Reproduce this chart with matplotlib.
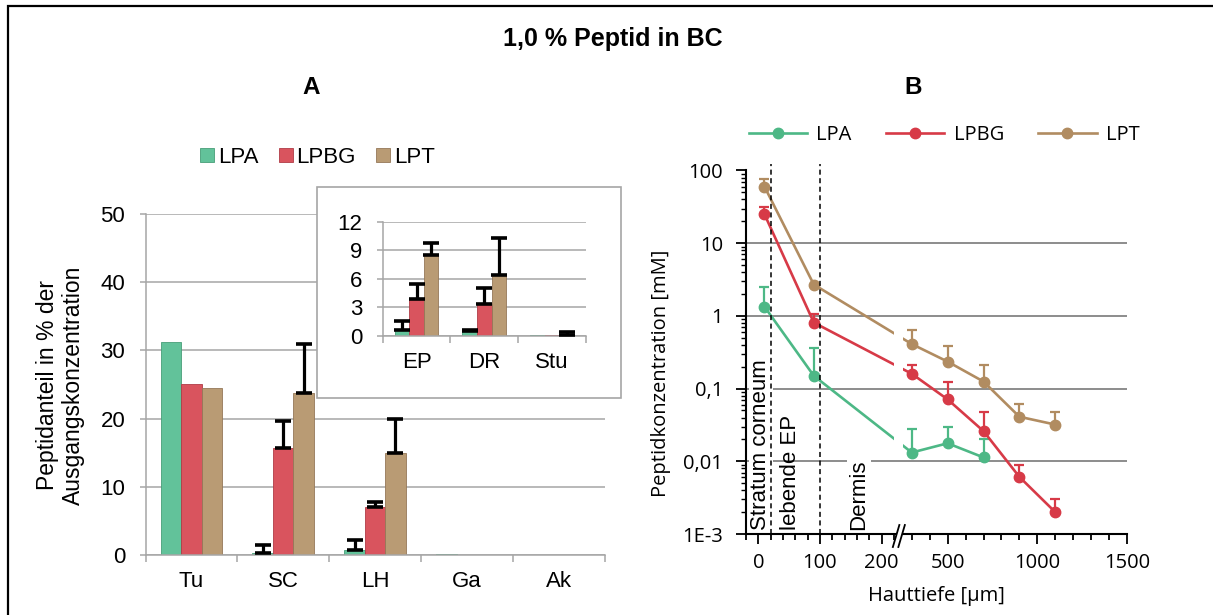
import numpy as np
import matplotlib
matplotlib.use("Agg")
import matplotlib.pyplot as plt
from matplotlib.patches import Rectangle, Polygon
from matplotlib.path import Path
from matplotlib.lines import Line2D
from matplotlib.transforms import IdentityTransform, blended_transform_factory
from matplotlib.ticker import FixedLocator, NullFormatter, LogLocator

W, H, DPI = 1213, 615, 100

# ---------------- Panel A data ----------------
cats_a = ["Tu", "SC", "LH", "Ga", "Ak"]
series_names = ["LPA", "LPBG", "LPT"]
lpa_a = [31.2, 0.35, 0.8, 0.08, 0.0]
lpbg_a = [25.1, 15.7, 7.0, 0.0, 0.0]
lpt_a = [24.5, 23.7, 15.0, 0.0, 0.0]
lpa_a_err = [np.nan, 1.05, 1.4, np.nan, np.nan]
lpbg_a_err = [np.nan, 4.0, 0.7, np.nan, np.nan]
lpt_a_err = [np.nan, 7.3, 5.0, np.nan, np.nan]
yticks_a = [0, 10, 20, 30, 40, 50]

# inset of panel A
cats_i = ["EP", "DR", "Stu"]
lpa_i = [0.55, 0.45, 0.05]
lpbg_i = [3.9, 3.3, 0.05]
lpt_i = [8.5, 6.4, 0.12]
lpa_i_err = [1.0, 0.2, np.nan]
lpbg_i_err = [1.5, 1.7, np.nan]
lpt_i_err = [1.3, 3.9, 0.23]
yticks_i = [0, 3, 6, 9, 12]

# ---------------- Panel B data ----------------
depth_lpa = [10, 90, 300, 500, 700]
conc_lpa = [1.34, 0.15, 0.0132, 0.0177, 0.0113]
err_lpa = [1.14, 0.21, 0.015, 0.012, 0.009]
depth_lpbg = [10, 90, 300, 500, 700, 900, 1100]
conc_lpbg = [25.0, 0.81, 0.16, 0.071, 0.026, 0.0061, 0.0020]
err_lpbg = [6.0, 0.25, 0.05, 0.052, 0.021, 0.0029, 0.0010]
depth_lpt = [10, 90, 300, 500, 700, 900, 1100]
conc_lpt = [60.0, 2.7, 0.41, 0.235, 0.125, 0.041, 0.032]
err_lpt = [16.0, 0.0, 0.22, 0.155, 0.085, 0.021, 0.016]
xticks_b = [0, 100, 200, 500, 1000, 1500]
xminor_b = [-20, 20, 40, 60, 80, 120, 140, 160, 180, 220,
            300, 400, 600, 700, 800, 900, 1100, 1200, 1300, 1400]
yticks_b = [1e-3, 1e-2, 1e-1, 1, 10, 100]
yticklabels_b = ["1E-3", "0,01", "0,1", "1", "10", "100"]
grid_b = [1e-2, 1e-1, 1, 10]
layer_bounds = [20, 100]
layer_labels = ["Stratum corneum", "lebende EP", "Dermis"]
layer_label_x = [4, 53, 163]

bar_colors = ["#62C29A", "#D9545E", "#B99B74"]
bar_edges = ["#479E78", "#B03C46", "#957859"]
line_colors = ["#4DB886", "#D73A47", "#B18C61"]

plt.rcParams["font.family"] = ["Liberation Sans", "DejaVu Sans"]
FB = ["Open Sans", "DejaVu Sans"]

fig = plt.figure(figsize=(W / DPI, H / DPI), dpi=DPI)


def fx(px):
    return px / W


def fy(py):
    return 1 - py / H


# outer frame
fig.add_artist(Rectangle((fx(7.5), fy(800)), 2.0, fy(6) - fy(800),
                         transform=fig.transFigure, fill=False, lw=1.6,
                         ec="black", zorder=0))

fig.text(fx(613), fy(39), "1,0 % Peptid in BC", ha="center", va="center",
         fontsize=18, fontweight="bold")
fig.text(fx(311), fy(87), "A", ha="center", va="center", fontsize=17.5,
         fontweight="bold")
fig.text(fx(913), fy(87), "B", ha="center", va="center", fontsize=17.5,
         fontweight="bold")

GRAY = "#A6A6A6"


def bar_panel(ax, cats, vals, errs, width, ylim, yticks):
    x = np.arange(len(cats))
    offs = [-width, 0, width]
    conts = []
    for v, e, o, fc, ec in zip(vals, errs, offs, bar_colors, bar_edges):
        c = ax.bar(x + o, v, width=width, color=fc, edgecolor=ec, lw=0.6,
                   zorder=2)
        conts.append(c)
        e = np.asarray(e, float)
        m = ~np.isnan(e)
        ax.errorbar((x + o)[m], np.asarray(v)[m],
                    yerr=[np.zeros(m.sum()), e[m]], fmt="none", ecolor="black",
                    elinewidth=2.3, capsize=5.8, capthick=2.6, zorder=3)
    ax.set_xlim(-0.5, len(cats) - 0.5)
    ax.set_ylim(*ylim)
    ax.set_yticks(yticks)
    ax.set_xticks(x, cats)
    ax.set_xticks(np.arange(len(cats) + 1) - 0.5, minor=True)
    ax.tick_params(axis="x", which="major", length=0, pad=11.5, labelsize=16)
    ax.tick_params(axis="x", which="minor", length=5, width=1.1, color=GRAY)
    ax.tick_params(axis="y", length=4.6, width=1.1, color=GRAY, pad=10,
                   labelsize=16)
    ax.yaxis.grid(True, color=GRAY, lw=1.1)
    ax.set_axisbelow(True)
    for s in ("top", "right"):
        ax.spines[s].set_visible(False)
    for s in ("left", "bottom"):
        ax.spines[s].set_color(GRAY)
        ax.spines[s].set_linewidth(1.1)
    ax.patch.set_visible(False)
    return conts


ax_a = fig.add_axes([fx(145.5), fy(555), (604.5 - 145.5) / W, (555 - 214) / H])
conts = bar_panel(ax_a, cats_a, [lpa_a, lpbg_a, lpt_a],
                  [lpa_a_err, lpbg_a_err, lpt_a_err], 0.223, (0, 50), yticks_a)

fig.text(fx(60.6), fy(385), "Peptidanteil in % der\nAusgangskonzentration",
         rotation=90, ha="center", va="center", fontsize=16.5,
         multialignment="center")

# inset box
fig.add_artist(Rectangle((fx(316.7), fy(398)), 304.3 / W, 211.3 / H,
                         transform=fig.transFigure, facecolor="white",
                         edgecolor=GRAY, lw=1.2, zorder=2))
ax_i = fig.add_axes([fx(382.7), fy(335.7), 203.3 / W, 114 / H], zorder=3)
bar_panel(ax_i, cats_i, [lpa_i, lpbg_i, lpt_i],
          [lpa_i_err, lpbg_i_err, lpt_i_err], 0.215, (0, 12), yticks_i)

fig.legend(conts, series_names, loc="center left",
           bbox_to_anchor=(fx(200), fy(157)), ncol=3, frameon=False,
           handlelength=0.63, handleheight=0.6, handletextpad=0.18,
           columnspacing=0.9, borderpad=0, borderaxespad=0, fontsize=16)

# ---------------- Panel B ----------------
B_BR = 228.0
R = 0.291


def fwd(x):
    x = np.asarray(x, float)
    return np.where(x <= B_BR, x, B_BR + (x - B_BR) * R)


def inv(u):
    u = np.asarray(u, float)
    return np.where(u <= B_BR, u, B_BR + (u - B_BR) / R)


ax_b = fig.add_axes([fx(746), fy(534), 381 / W, 363.5 / H])
ax_b.set_xscale("function", functions=(fwd, inv))
ax_b.set_yscale("log")
ax_b.set_xlim(-20, 1500)
ax_b.set_ylim(1e-3, 100)
ax_b.xaxis.set_major_locator(FixedLocator(xticks_b))
ax_b.xaxis.set_minor_locator(FixedLocator(xminor_b))
ax_b.xaxis.set_minor_formatter(NullFormatter())
ax_b.set_xticklabels([str(t) for t in xticks_b], fontfamily=FB)
ax_b.yaxis.set_major_locator(FixedLocator(yticks_b))
ax_b.yaxis.set_minor_locator(LogLocator(base=10, subs=np.arange(2, 10)))
ax_b.yaxis.set_minor_formatter(NullFormatter())
ax_b.set_yticklabels(yticklabels_b, fontfamily=FB)
ax_b.tick_params(axis="y", which="major", length=7.2, width=1.3, color="black",
                 pad=9.4, labelsize=14.5)
ax_b.tick_params(axis="y", which="minor", length=3.6, width=1.0, color="black")
ax_b.tick_params(axis="x", which="major", length=7.2, width=1.3, color="black",
                 pad=6.5, labelsize=14.5)
ax_b.tick_params(axis="x", which="minor", length=4.3, width=1.3, color="black")
for s in ("top", "right"):
    ax_b.spines[s].set_visible(False)
for s in ("left", "bottom"):
    ax_b.spines[s].set_color("black")
    ax_b.spines[s].set_linewidth(1.5)

for g in grid_b:
    ax_b.axhline(g, color="#8C8C8C", lw=1.4, zorder=1)

bt = blended_transform_factory(ax_b.transData, ax_b.transAxes)
for xb in layer_bounds:
    ax_b.plot([xb, xb], [0, 1.018], transform=bt, color="black", lw=1.1,
              ls=(0, (3.3, 2.3)), clip_on=False, zorder=5)

for lab, lx in zip(layer_labels, layer_label_x):
    kw = {}
    if lab != "lebende EP":
        kw["bbox"] = dict(facecolor="white", edgecolor="none", pad=1.0)
    ax_b.text(lx, 0.01, lab, transform=bt, rotation=90, ha="center",
              va="bottom", fontsize=16, zorder=2, **kw)

series_b = [(depth_lpa, conc_lpa, err_lpa), (depth_lpbg, conc_lpbg, err_lpbg),
            (depth_lpt, conc_lpt, err_lpt)]
plot_lines = []
for (d, c, e), col in zip(series_b, line_colors):
    ax_b.errorbar(d, c, yerr=[np.zeros(len(e)), e], fmt="none", ecolor=col,
                  elinewidth=1.6, capsize=3.6, capthick=1.6, zorder=3)
    ln, = ax_b.plot(d, c, "-o", color=col, lw=1.9, ms=7.5, mec=col, zorder=4)
    plot_lines.append(ln)

handles = [Line2D([], [], color=col, lw=1.9, marker="o", ms=7.5)
           for col in line_colors]
fig.legend(handles, series_names, loc="center left",
           bbox_to_anchor=(fx(749), fy(135)), ncol=3, frameon=False,
           handlelength=2.9, handletextpad=0.45, columnspacing=1.7,
           borderpad=0, borderaxespad=0, prop={"family": FB, "size": 14.5})

fig.text(fx(936.5), fy(596), "Hauttiefe [µm]", ha="center", va="center",
         fontsize=14.5, fontfamily=FB)
fig.text(fx(661), fy(373), "Peptidkonzentration [mM]", ha="center",
         va="center", rotation=90, fontsize=14.5, fontfamily=FB)

# axis break: gap in the series lines and "//" mark
xb_px, yb_px = ax_b.transData.transform((B_BR, 1e-3))
bb = ax_b.bbox
g = 4.5
verts = [(bb.x0 - 20, bb.y0 - 20), (xb_px - g, bb.y0 - 20),
         (xb_px - g, bb.y1 + 20), (bb.x0 - 20, bb.y1 + 20), (0, 0),
         (xb_px + g, bb.y0 - 20), (bb.x1 + 20, bb.y0 - 20),
         (bb.x1 + 20, bb.y1 + 20), (xb_px + g, bb.y1 + 20), (0, 0)]
codes = [Path.MOVETO, Path.LINETO, Path.LINETO, Path.LINETO, Path.CLOSEPOLY] * 2
clip = Path(verts, codes)
for ln in plot_lines:
    ln.set_clip_path(clip, IdentityTransform())

fig.add_artist(Polygon([(xb_px - 6, yb_px - 13), (xb_px + 0.5, yb_px + 9),
                        (xb_px + 6, yb_px + 9), (xb_px - 0.5, yb_px - 13)],
                       closed=True, facecolor="white", edgecolor="none",
                       transform=IdentityTransform(), zorder=10))
for dx in (0, 5.5):
    fig.add_artist(Line2D([xb_px - 6 + dx, xb_px + 0.5 + dx],
                          [yb_px - 13, yb_px + 9], color="black", lw=1.3,
                          transform=IdentityTransform(), zorder=11))

fig.savefig("out.png", dpi=DPI)
